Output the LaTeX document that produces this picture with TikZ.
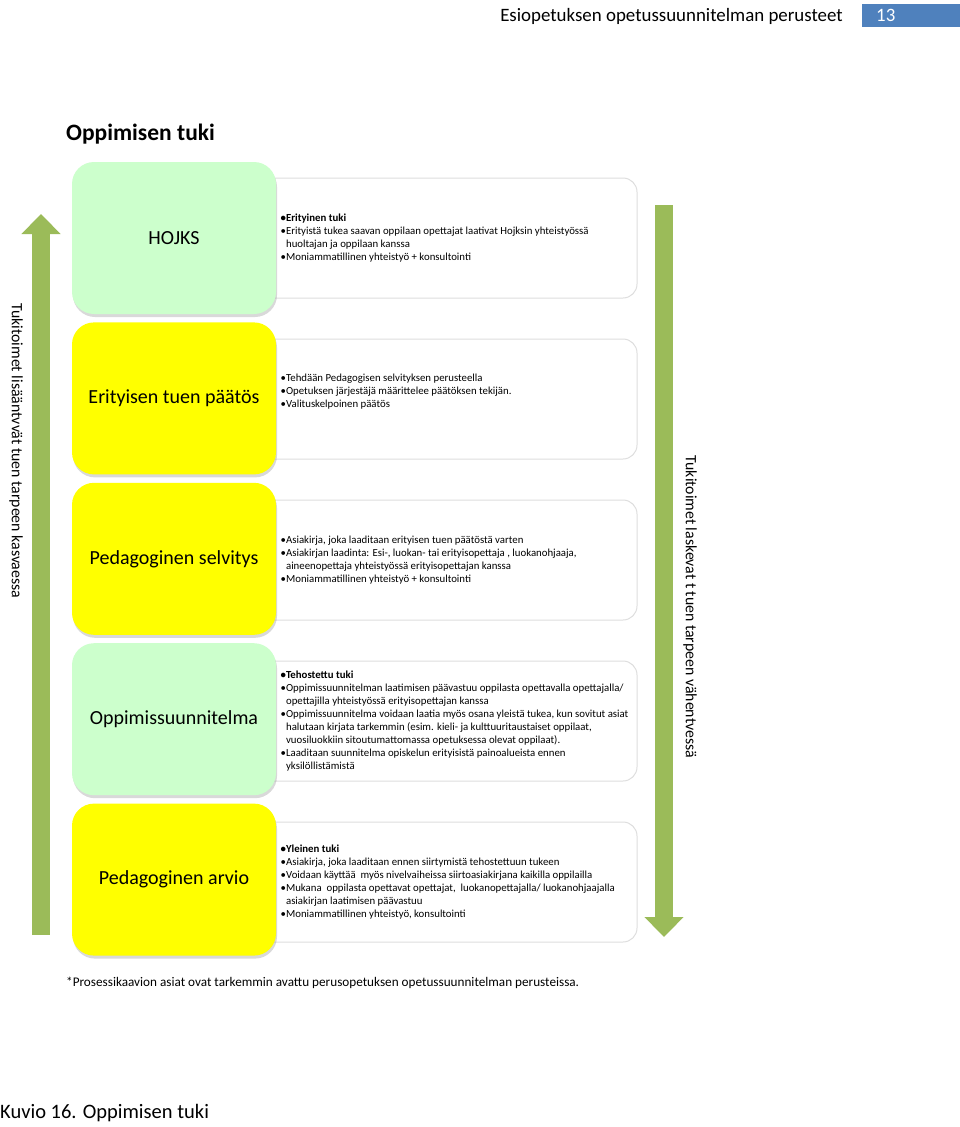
\documentclass[tikz,border=0pt]{standalone}
\usepackage{fontspec}
\setmainfont{Carlito}
\definecolor{palegreen}{RGB}{204,255,204}
\definecolor{hiyellow}{RGB}{255,255,0}
\definecolor{arrowgreen}{RGB}{155,187,89}
\definecolor{pageblue}{RGB}{79,129,189}
\definecolor{boxgrey}{RGB}{222,222,222}
\usetikzlibrary{arrows.meta,positioning,shadows}
\tikzset{
  lvlbox/.style={rectangle, rounded corners=22pt, minimum width=204pt, minimum height=152pt,
    font=\fontsize{20}{22}\selectfont, drop shadow={opacity=0.3, shadow xshift=1pt, shadow yshift=-3pt}},
  infobox/.style={rectangle, rounded corners=14pt, draw=boxgrey, fill=white, line width=1pt,
    minimum width=387pt, minimum height=120pt},
  infotext/.style={align=left, inner sep=0pt, font=\fontsize{10.8}{13}\selectfont},
  sidetext/.style={rotate=-90, font=\fontsize{15.8}{17}\selectfont},
  bigarrow/.style={-{Triangle[width=38pt,length=20pt]}, line width=18pt, arrowgreen}
}
\newcommand{\hang}{\hphantom{•}}

\begin{document}
\begin{tikzpicture}[x=1pt,y=-1pt]
  \useasboundingbox (0,0) rectangle (960,1127);
  \node[anchor=base east, inner sep=0pt, font=\fontsize{18.9}{21}\selectfont] (head) at (843,21) {Esiopetuksen opetussuunnitelman perusteet};
  \node[fill=pageblue, anchor=north west, minimum width=98pt, minimum height=23pt] (pbox) at (862,4) {};
  \node[anchor=west, inner sep=0pt, text=white, font=\fontsize{18.9}{21}\selectfont] (pnum) at (876,15.5) {13};
  \node[anchor=west, inner sep=0pt, font=\bfseries\fontsize{23.5}{26}\selectfont] (title) at (66,134) {Oppimisen tuki};

  \node[infobox] (i1) at (443.5,238) {};
  \node[infobox,below=40pt of i1] (i2) {};
  \node[infobox,below=40pt of i2] (i3) {};
  \node[infobox,below=40pt of i3] (i4) {};
  \node[infobox,below=40pt of i4] (i5) {};

  \node[lvlbox,fill=palegreen] (hojks) at (174,238) {HOJKS};
  \node[lvlbox,fill=hiyellow,below=8pt of hojks] (etp) {Erityisen tuen päätös};
  \node[lvlbox,fill=hiyellow,below=8pt of etp] (psel) {Pedagoginen selvitys};
  \node[lvlbox,fill=palegreen,below=8pt of psel] (opsu) {Oppimissuunnitelma};
  \node[lvlbox,fill=hiyellow,below=8pt of opsu] (parv) {Pedagoginen arvio};

  \node[infotext,right=31pt of i1.west] (t1) {\textbf{•Erityinen tuki}\\
    •Erityistä tukea saavan oppilaan opettajat laativat Hojksin yhteistyössä\\
    \hang huoltajan ja oppilaan kanssa\\
    •Moniammatillinen yhteistyö + konsultointi};
  \node[infotext,right=31pt of i2.west,yshift=7pt] (t2) {•Tehdään Pedagogisen selvityksen perusteella\\
    •Opetuksen järjestäjä määrittelee päätöksen tekijän.\\
    •Valituskelpoinen päätös};
  \node[infotext,right=31pt of i3.west] (t3) {•Asiakirja, joka laaditaan erityisen tuen päätöstä varten\\
    •Asiakirjan laadinta: Esi-, luokan- tai erityisopettaja , luokanohjaaja,\\
    \hang aineenopettaja yhteistyössä erityisopettajan kanssa\\
    •Moniammatillinen yhteistyö + konsultointi};
  \node[infotext,right=31pt of i4.west] (t4) {\textbf{•Tehostettu tuki}\\
    •Oppimissuunnitelman laatimisen päävastuu oppilasta opettavalla opettajalla/\\
    \hang opettajilla yhteistyössä erityisopettajan kanssa\\
    •Oppimissuunnitelma voidaan laatia myös osana yleistä tukea, kun sovitut asiat\\
    \hang halutaan kirjata tarkemmin (esim. kieli- ja kulttuuritaustaiset oppilaat,\\
    \hang vuosiluokkiin sitoutumattomassa opetuksessa olevat oppilaat).\\
    •Laaditaan suunnitelma opiskelun erityisistä painoalueista ennen\\
    \hang yksilöllistämistä};
  \node[infotext,right=31pt of i5.west] (t5) {\textbf{•Yleinen tuki}\\
    •Asiakirja, joka laaditaan ennen siirtymistä tehostettuun tukeen\\
    •Voidaan käyttää~ myös nivelvaiheissa siirtoasiakirjana kaikilla oppilailla\\
    •Mukana~ oppilasta opettavat opettajat,~ luokanopettajalla/ luokanohjaajalla\\
    \hang asiakirjan laatimisen päävastuu\\
    •Moniammatillinen yhteistyö, konsultointi};

  \coordinate (upfoot) at (41,935);
  \coordinate (uptip) at (41,214);
  \coordinate (downtop) at (664,205);
  \coordinate (downtip) at (664,937);
  \draw[bigarrow] (upfoot) -- (uptip);
  \draw[bigarrow] (downtop) -- (downtip);
  \node[sidetext] (lside) at (16,451) {Tukitoimet lisääntvvät tuen tarpeen kasvaessa};
  \node[sidetext] (rside) at (690,607) {Tukitoimet laskevat t tuen tarpeen vähentvessä};

  \node[anchor=west, inner sep=0pt, font=\fontsize{13.2}{15}\selectfont] (note) at (66,983) {*Prosessikaavion asiat ovat tarkemmin avattu perusopetuksen opetussuunnitelman perusteissa.};
  \node[anchor=west, inner sep=0pt, font=\fontsize{20.5}{23}\selectfont] (cap) at (0,1113) {Kuvio 16. Oppimisen tuki};
\end{tikzpicture}
\end{document}
